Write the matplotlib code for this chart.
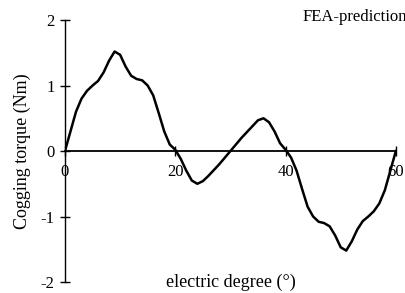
import matplotlib.pyplot as plt

plt.rcParams['font.family'] = ['Liberation Serif', 'DejaVu Serif']

# electric degree vs cogging torque
degree = list(range(0, 61))
torque = [0.0, 0.3, 0.6, 0.8, 0.92, 1.0, 1.07, 1.2, 1.38, 1.52,
          1.47, 1.29, 1.15, 1.1, 1.08, 1.0, 0.85, 0.58, 0.3, 0.1,
          0.02, -0.12, -0.3, -0.45, -0.5, -0.46, -0.38, -0.29, -0.2, -0.1,
          0.0, 0.1, 0.2, 0.29, 0.38, 0.47, 0.5, 0.44, 0.3, 0.12,
          0.02, -0.1, -0.3, -0.58, -0.85, -1.0, -1.08, -1.1, -1.15, -1.29,
          -1.47, -1.52, -1.38, -1.2, -1.07, -1.0, -0.92, -0.8, -0.6, -0.3,
          0.0]
xticks = [0, 20, 40, 60]
yticks = [-2, -1, 0, 1, 2]

fig = plt.figure(figsize=(4.06, 2.93), dpi=100)
ax = fig.add_axes([0.160, 0.0375, 0.815, 0.894])

ax.plot(degree, torque, color='black', lw=1.8, solid_joinstyle='round')

ax.set_xlim(0, 60)
ax.set_ylim(-2, 2)
ax.spines['left'].set_position(('data', 0))
ax.spines['bottom'].set_position(('data', 0))
ax.spines['top'].set_visible(False)
ax.spines['right'].set_visible(False)
ax.spines['left'].set_linewidth(1.0)
ax.spines['bottom'].set_linewidth(1.3)
ax.spines['left'].set_bounds(-2, 2)

ax.set_xticks(xticks)
ax.set_yticks(yticks)
ax.set_xticklabels([str(t) for t in xticks])
ax.set_yticklabels([str(t) for t in yticks])
ax.tick_params(axis='both', direction='inout', length=7, width=1.0,
               labelsize=12, color='black')
ax.tick_params(axis='y', pad=4)
ax.tick_params(axis='x', pad=6)

fig.text(0.055, 0.483, 'Cogging torque (Nm)', rotation=90, ha='center',
         va='center', fontsize=13)
fig.text(0.569, 0.038, 'electric degree (°)', ha='center', va='center',
         fontsize=13)
fig.text(0.744, 0.942, 'FEA-prediction', ha='left', va='center',
         fontsize=12)

fig.savefig('out.png', dpi=100)
